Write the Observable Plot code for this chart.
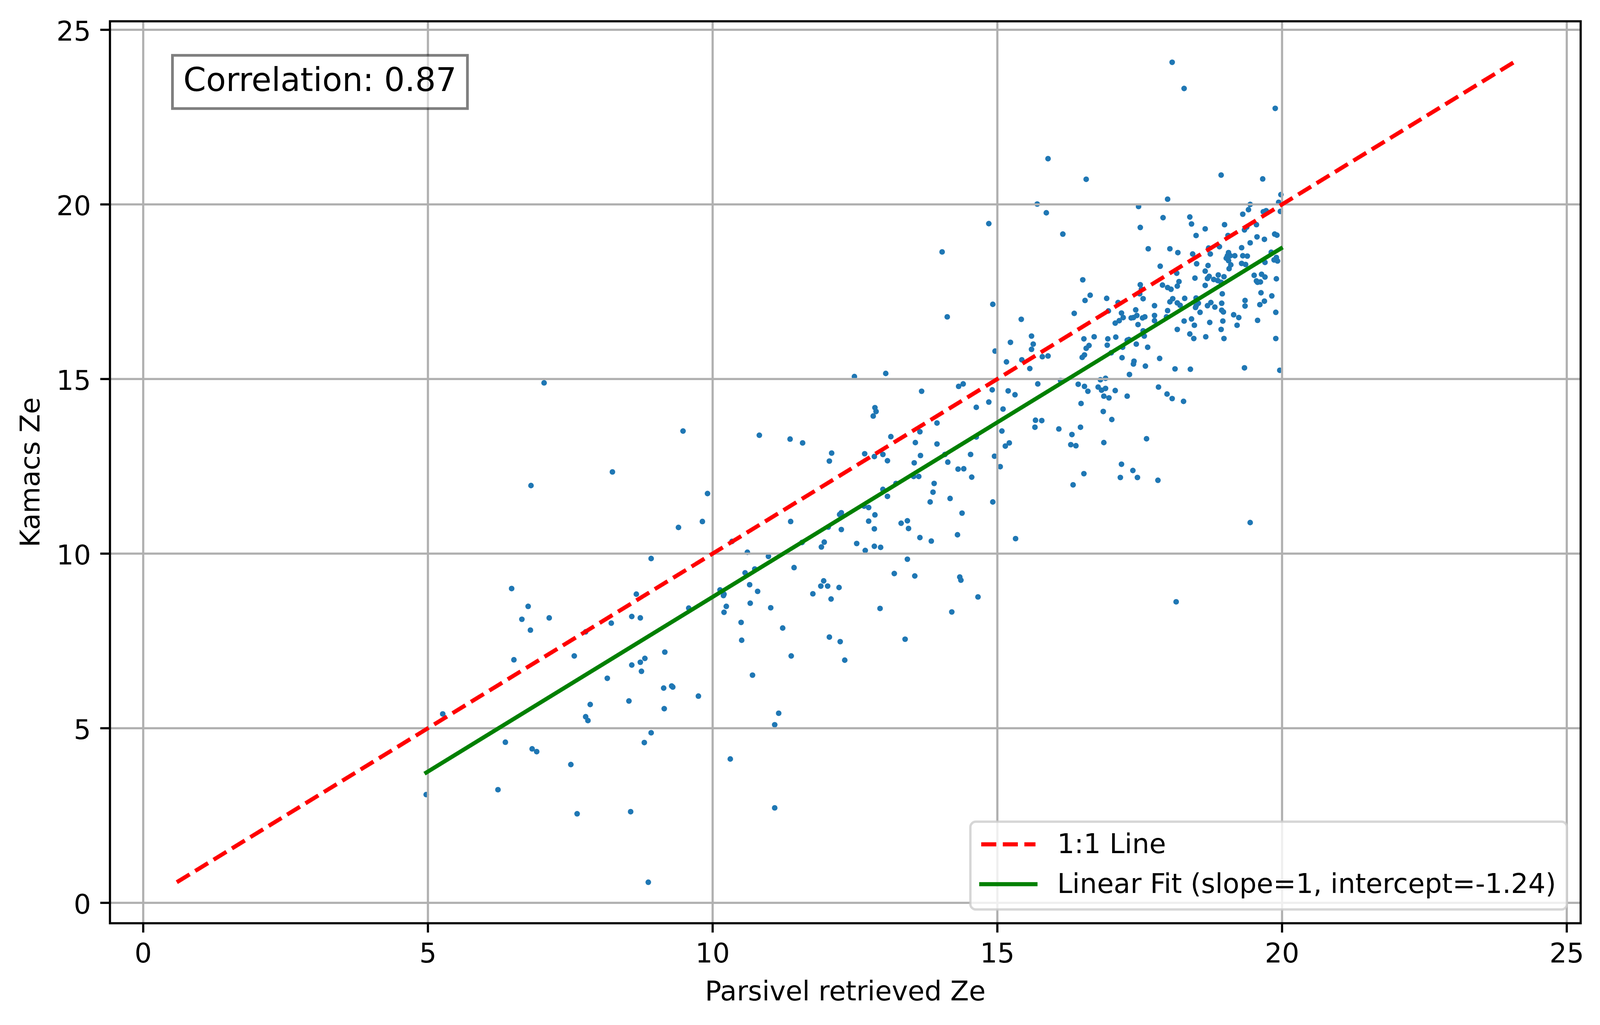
<!DOCTYPE html>
<html>
<head>
<meta charset="utf-8">
<script src="https://cdn.jsdelivr.net/npm/d3@7"></script>
<script src="https://cdn.jsdelivr.net/npm/@observablehq/plot@0.6"></script>
<style>
  html, body { margin: 0; padding: 0; background: #fff; overflow: hidden; }
  svg { display: block; }
</style>
</head>
<body>
<div id="chart"></div>
<script>
// ---- data ----
const parsivelZe = [
  7.04,8.24,6.81,8.92,6.47,6.76,6.65,6.80,7.13,8.66,8.58,8.73,8.22,7.77,6.51,7.57,8.58,8.73,8.81,8.75,8.15,8.53,7.85,7.77,7.81,5.26,8.92,8.80,6.36,6.83,6.91,7.51,4.97,6.23,7.62,8.56,8.87,
  12.49,12.85,12.82,12.87,9.48,10.82,11.36,11.58,12.09,12.05, 12.67,12.84,9.91,9.40,9.82,11.37,12.26,12.23,12.66,12.74, 12.85,12.74,12.84,12.26,12.03,10.34,11.57,11.91,11.96,12.53, 12.68,12.84,10.61,10.98,11.43,10.74,10.57,10.65,10.79,10.66, 11.02,10.13,10.19,10.20,10.24,10.20,9.58,11.76,11.90,11.95, 12.02,12.22,12.08,10.50,10.51,11.23,12.05,12.24,11.38,12.32, 9.16,9.14,9.28,9.30,9.15,9.75,10.70,11.16,11.09,10.31, 11.09,
  15.89,15.70,15.86,16.15,14.85,14.03,14.92,14.12,15.42,15.60, 15.63,15.60,15.23,14.96,15.16,15.43,15.79,15.89,15.57,13.04, 15.71,16.11,14.32,14.40,13.67,14.91,15.19,15.31,14.85,14.63, 15.10,13.94,15.67,15.78,15.66,16.08,13.64,13.13,13.56,13.94, 14.63,15.08,15.14,15.21,12.99,13.07,13.65,13.54,14.08,14.13, 14.53,14.95,14.31,14.41,15.05,14.55,13.53,13.62,13.22,13.89, 12.99,13.87,13.07,14.17,13.82,14.92,14.38,13.31,13.42,
  13.44,13.64,13.84,14.30,12.95,15.32,13.42,13.19,13.55,14.34,14.36,14.66,12.94,14.20,13.38,
  18.07,16.56,17.99,17.48,17.91,17.51,17.65,18.03,18.17,17.86, 18.15,16.50,17.51,17.53,17.50,17.90,17.99,18.05,18.16,18.19, 16.63,16.54,16.92,17.12,17.56,17.76,18.08,18.03,18.16,17.43, 17.99,
  16.35,16.95,17.18,17.21,17.14,17.07,17.35,17.39,17.45,17.47, 17.55,17.59,17.76,17.76,17.97,18.16,16.52,16.70,16.56,16.61, 16.53,16.49,16.94,16.93,17.08,17.00,17.28,17.31,17.20,17.56, 17.58,17.44,17.64,17.19,17.40,17.39,17.60,17.85,18.12,17.32, 16.81,16.90,16.42,16.53,16.59,16.77,16.83,16.90,16.87,16.96, 17.07,17.28,17.83,17.98,18.07,16.47,16.86,17.01,16.46,16.31, 16.29,16.38,16.87,17.62,17.18,17.38,17.16,17.46,17.82,16.52, 16.33,18.14,
  18.28,19.88,18.93,19.66,19.98,19.94,19.97,19.44,19.41,19.31, 19.67,19.72,18.38,18.41,18.65,18.49,18.99,19.55,19.38,19.34, 19.05,19.56,19.69,19.87,19.91,19.44,18.71,18.90,19.29,18.43, 18.74,19.06,19.81,
  19.04,19.09,19.02,19.17,19.31,19.39,19.06,19.10,19.07,19.29, 19.36,19.90,19.86,19.92,19.70,18.50,18.70,18.65,18.47,18.69, 18.72,18.65,18.80,18.87,18.88,18.98,18.93,19.51,19.64,19.70, 19.55,19.57,19.62,19.90,18.95,19.63,19.82,18.29,18.21,18.49, 18.53,18.49,18.48,18.56,18.69,18.75,18.82,18.94,18.94,18.97, 19.35,19.35,19.61,19.69,19.89,19.15,19.24,18.28,18.41,18.46, 18.73,18.96,19.21,19.57,18.38,18.45,18.66,18.93,18.98,19.89, 18.39,19.34,19.96,18.27,
  19.44
];
const kamacsZe = [
  14.89,12.34,11.95,9.86,9.00,8.49,8.12,7.81,8.16,8.84,8.20,8.16,8.01,7.76,6.96,7.07,6.81,6.89,7.00,6.63,6.43,5.78,5.68,5.33,5.22,5.41,4.87,4.59,4.60,4.41,4.33,3.96,3.10,3.24,2.55,2.61,0.59,
  15.07,14.18,13.94,14.07,13.51,13.39,13.28,13.17,12.88,12.65, 12.86,12.78,11.72,10.75,10.92,10.92,11.17,11.12,11.36,11.32, 11.11,10.93,10.71,10.69,10.76,10.35,10.32,10.19,10.33,10.29, 10.09,10.21,10.04,9.92,9.60,9.56,9.45,9.11,8.92,8.58, 8.45,8.96,8.80,8.84,8.49,8.32,8.44,8.85,9.07,9.22, 9.07,9.03,8.70,8.03,7.52,7.87,7.61,7.48,7.07,6.95, 7.18,6.15,6.21,6.18,5.56,5.92,6.52,5.43,5.10,4.12, 2.72,
  21.31,20.01,19.76,19.15,19.45,18.64,17.14,16.78,16.71,16.23, 16.00,15.85,16.05,15.80,15.49,15.55,15.64,15.66,15.30,15.16, 14.86,14.96,14.79,14.86,14.65,14.69,14.66,14.55,14.34,14.19, 14.14,13.74,13.82,13.81,13.62,13.57,13.49,13.35,13.18,13.14, 13.34,13.51,13.08,13.17,12.84,12.66,12.81,12.60,12.84,12.62, 12.84,12.79,12.42,12.43,12.49,12.19,12.21,12.21,12.01,12.01, 11.84,11.76,11.64,11.58,11.48,11.48,11.16,10.87,10.94,
  10.72,10.46,10.36,10.54,10.18,10.43,9.84,9.43,9.36,9.33,9.24,8.76,8.43,8.33,7.55,
  24.07,20.72,20.15,19.94,19.62,19.34,18.73,18.73,18.62,18.23, 18.03,17.84,17.70,17.57,17.44,17.69,17.62,17.57,17.66,17.79, 17.40,17.25,17.31,17.19,17.30,17.10,17.30,17.21,17.18,16.98, 16.96,
  16.88,16.95,16.89,16.76,16.67,16.60,16.75,16.76,16.82,16.56, 16.75,16.78,16.82,16.67,16.78,16.42,16.15,16.21,15.88,15.96, 15.69,15.62,16.15,15.97,16.20,15.75,16.11,16.13,15.91,16.38, 16.23,16.00,15.91,15.61,15.51,15.43,15.37,15.59,15.29,15.13, 14.98,15.02,14.85,14.79,14.65,14.77,14.68,14.73,14.51,14.46, 14.67,14.51,14.77,14.57,14.44,14.30,14.07,13.84,13.62,13.41, 13.12,13.09,13.18,13.29,12.56,12.38,12.18,12.18,12.10,12.29, 11.97,8.62,
  23.32,22.75,20.84,20.73,20.28,20.06,19.80,20.00,19.85,19.72, 19.79,19.82,19.64,19.44,19.30,19.11,19.42,19.42,19.35,19.27, 19.11,19.07,19.00,19.15,19.12,18.90,18.75,18.79,18.76,18.58, 18.58,18.62,18.63,
  18.53,18.53,18.46,18.53,18.53,18.52,18.39,18.27,18.16,18.31, 18.28,18.48,18.41,18.38,18.34,18.30,18.25,18.09,17.89,17.88, 17.94,17.68,17.85,17.82,17.98,17.93,17.77,17.97,18.00,17.92, 17.81,17.77,17.78,17.87,17.44,17.47,17.38,17.31,17.11,17.32, 17.17,17.09,17.05,16.91,17.10,17.19,17.06,17.17,16.97,16.92, 17.25,17.09,17.13,17.23,16.91,16.84,16.76,16.66,16.72,16.54, 16.62,16.66,16.54,16.68,16.29,16.16,16.21,16.42,16.16,16.16, 15.28,15.32,15.25,14.36,
  10.89
];
const xTicks = [0, 5, 10, 15, 20, 25];
const yTicks = [0, 5, 10, 15, 20, 25];
const fitSlope = 1;
const fitIntercept = -1.24;
const xLabel = "Parsivel retrieved Ze";
const yLabel = "Kamacs Ze";
const corrLabel = "Correlation: 0.87";
const legendLabels = ["1:1 Line", "Linear Fit (slope=1, intercept=-1.24)"];

// ---- derived tables ----
const points = parsivelZe.map((x, i) => ({x, y: kamacsZe[i]}));
const lo = Math.min(d3.min(parsivelZe), d3.min(kamacsZe));
const hi = Math.max(d3.max(parsivelZe), d3.max(kamacsZe));
const pad = 0.05 * (hi - lo);
const domain = [lo - pad, hi + pad];
const oneToOne = [{v: lo}, {v: hi}];
const fitLine = d3.extent(parsivelZe).map(x => ({x, y: fitSlope * x + fitIntercept}));

// ---- layout (500 dpi matplotlib look), fitted to the actual viewport ----
const W = Math.min(4981, window.innerWidth || 4981);
const H = Math.min(2624, window.innerHeight || 2624);
const PT = 500 / 72;
const mL = 281, mR = 50, mT = 54, mB = 261;
const FS = 10 * PT;
const FONT = "DejaVu Sans";
const dash = `${5.55 * PT},${2.4 * PT}`;

const plot = Plot.plot({
  width: W, height: H,
  marginLeft: mL, marginRight: mR, marginTop: mT, marginBottom: mB,
  style: {fontFamily: FONT, fontSize: `${FS}px`, background: "white", color: "black"},
  x: {domain, label: null},
  y: {domain, label: null},
  marks: [
    Plot.dot(points, {x: "x", y: "y", r: 7.2, fill: "#1f77b4"}),
    Plot.gridX(xTicks, {stroke: "#b0b0b0", strokeOpacity: 1, strokeWidth: 0.8 * PT}),
    Plot.gridY(yTicks, {stroke: "#b0b0b0", strokeOpacity: 1, strokeWidth: 0.8 * PT}),
    Plot.line(oneToOne, {x: "v", y: "v", stroke: "#ff0000", strokeWidth: 1.5 * PT, strokeDasharray: dash, strokeLinecap: "butt"}),
    Plot.line(fitLine, {x: "x", y: "y", stroke: "#008000", strokeWidth: 1.5 * PT, strokeLinecap: "square"}),
    Plot.frame({stroke: "black", strokeWidth: 0.8 * PT}),
    Plot.axisX({ticks: xTicks, tickSize: 3.5 * PT, tickPadding: 27, strokeWidth: 0.8 * PT, label: null, fontSize: FS, tickFormat: d => `${d}`}),
    Plot.axisY({ticks: yTicks, tickSize: 3.5 * PT, strokeWidth: 0.8 * PT, label: null, tickFormat: () => ""}),
    Plot.text(yTicks, {y: d => d, text: d => `${d}`, frameAnchor: "left", dx: -7 * PT, dy: 5.5, textAnchor: "end", lineAnchor: "middle", fontSize: FS}),
    Plot.text([xLabel], {frameAnchor: "bottom", dy: 197, lineAnchor: "bottom", textAnchor: "middle", fontSize: FS}),
    Plot.text([yLabel], {frameAnchor: "left", dx: -180.5, rotate: -90, lineAnchor: "bottom", textAnchor: "middle", fontSize: FS})
  ]
});
document.getElementById("chart").append(plot);

const svg = d3.select(plot);
const frameW = W - mL - mR, frameH = H - mT - mB;
const frameR = mL + frameW, frameB = mT + frameH;

// ---- correlation text box ----
{
  const cfs = 12 * PT, bpad = 4 * PT;
  const tx = mL + 0.05 * frameW, ttop = mT + 0.05 * frameH;
  const g = svg.append("g").attr("text-anchor", "start");
  const rect = g.append("rect");
  const t = g.append("text")
    .attr("x", tx).attr("y", ttop + 0.76 * cfs)
    .attr("text-anchor", "start")
    .attr("font-family", FONT).attr("font-size", cfs).attr("fill", "black")
    .text(corrLabel);
  const tw = t.node().getComputedTextLength();
  rect.attr("x", tx - bpad).attr("y", ttop - bpad)
    .attr("width", tw + 2 * bpad).attr("height", 0.968 * cfs + 2 * bpad)
    .attr("fill", "white").attr("fill-opacity", 0.5)
    .attr("stroke", "#000").attr("stroke-opacity", 0.5).attr("stroke-width", 1 * PT);
}

// ---- legend ----
{
  const bp = 0.4 * FS, hl = 2 * FS, htp = 0.8 * FS, ls = 0.5 * FS, rowH = 0.968 * FS, bap = 0.5 * FS;
  const g = svg.append("g").attr("text-anchor", "start");
  const box = g.append("rect");
  const texts = legendLabels.map(l => g.append("text")
    .attr("text-anchor", "start")
    .attr("font-family", FONT).attr("font-size", FS).attr("fill", "black").text(l));
  const maxW = d3.max(texts, t => t.node().getComputedTextLength());
  const lw = 2 * bp + hl + htp + maxW;
  const lh = 2 * bp + legendLabels.length * rowH + (legendLabels.length - 1) * ls;
  const left = frameR - bap - lw, top = frameB - bap - lh;
  box.attr("x", left).attr("y", top).attr("width", lw).attr("height", lh)
    .attr("rx", 0.2 * FS).attr("ry", 0.2 * FS)
    .attr("fill", "white").attr("fill-opacity", 0.8)
    .attr("stroke", "#cccccc").attr("stroke-opacity", 0.8).attr("stroke-width", 6);
  const styles = [
    {stroke: "#ff0000", dash, cap: "butt"},
    {stroke: "#008000", dash: null, cap: "square"}
  ];
  texts.forEach((t, i) => {
    const base = top + bp + i * (rowH + ls) + 0.76 * FS;
    t.attr("x", left + bp + hl + htp).attr("y", base);
    const hy = base - 0.325 * FS;
    const ln = g.append("line")
      .attr("x1", left + bp).attr("x2", left + bp + hl)
      .attr("y1", hy).attr("y2", hy)
      .attr("stroke", styles[i].stroke).attr("stroke-width", 1.5 * PT)
      .attr("stroke-linecap", styles[i].cap);
    if (styles[i].dash) ln.attr("stroke-dasharray", styles[i].dash);
  });
}
</script>
</body>
</html>
